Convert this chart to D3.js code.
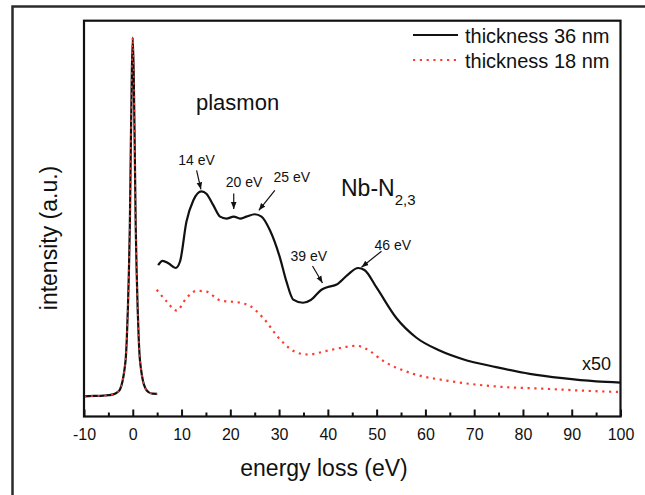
<!DOCTYPE html>
<html>
<head>
<meta charset="utf-8">
<script src="https://cdn.jsdelivr.net/npm/d3@7"></script>
<style>
  html, body { margin: 0; padding: 0; background: #fff; }
  svg text { font-family: "Liberation Sans", Arial, Helvetica, sans-serif; fill: #111; }
</style>
</head>
<body>
<div id="chart"></div>
<script>
// zero-loss peak (same for both thicknesses)
const zeroLossE = [-10, -8, -6, -5, -4, -3.2, -2.6, -2.1, -1.7, -1.4, -1.2, -1.0, -0.8, -0.6, -0.4, -0.2, 0,
  0.2, 0.4, 0.6, 0.8, 1.0, 1.2, 1.4, 1.7, 2.1, 2.6, 3.2, 4, 5]
const zeroLossI = [4.7, 4.8, 4.9, 5.0, 5.2, 5.7, 6.5, 8.5, 11.5, 15, 20, 27, 36, 48, 68, 86, 95.5,
  86, 68, 48, 36, 27, 20, 15, 11.5, 8.5, 6.7, 5.8, 5.4, 5.35]

// x50 loss region, thickness 36 nm
const energy36 = [5.2, 6.1, 7.3, 8.8, 9.7, 11, 12.4, 14.1, 15.1, 16.5, 17.9, 19.2, 20.7, 22, 23.3, 25, 26.4,
  28.1, 30.2, 31.5, 32.9, 34.9, 36.5, 38.7, 40, 41.8, 44, 46.2, 47.5, 50, 54, 58.1, 62.9, 67.7, 74.5,
  81.4, 88.1, 95, 100]
const loss36 = [37.9, 39.0, 38.4, 37.2, 38.9, 48.9, 54.3, 56.6, 56.0, 53.1, 50.2, 49.7, 50.2, 49.7, 50.2, 50.8, 50.2,
  46.8, 39.7, 33.8, 29.2, 28.4, 29.1, 31.7, 32.4, 33.0, 35.4, 37.2, 36.7, 32.2, 24.6, 19.6, 16.3, 14.1, 12.1,
  10.4, 9.3, 8.5, 8.2]

// x50 loss region, thickness 18 nm
const energy18 = [4.9, 6.9, 9, 11, 13.1, 15.1, 17.9, 22, 24, 26.7, 30.2, 33.6, 35.9, 40.4, 45.9, 47.9,
  51.3, 57.5, 64.3, 74.5, 84.8, 95, 99.8]
const loss18 = [31.7, 28.8, 26.4, 29.6, 31.4, 31.2, 29.0, 28.4, 27.6, 24.6, 19.1, 15.8, 15.3, 16.4, 17.5, 16.7,
  13.7, 10.4, 8.7, 7.2, 6.6, 6.0, 5.8]

const xTicks = [-10, 0, 10, 20, 30, 40, 50, 60, 70, 80, 90, 100]
const xMinorTicks = [-5, 5, 15, 25, 35, 45, 55, 65, 75, 85, 95]
const seriesNames = ['thickness 36 nm', 'thickness 18 nm']
const peakLabels = ['14 eV', '20 eV', '25 eV', '39 eV', '46 eV']

// arrow tips on the curve (energy, intensity) and pixel offsets of tail / label
const arrows = [
  { e: 13.97, i: 57.1, tail: [-4.3, -19], text: [-4.3, -24] },
  { e: 20.7, i: 52.1, tail: [0, -15.7], text: [10.3, -22.4] },
  { e: 25.85, i: 51.8, tail: [16, -20], text: [33, -28.7] },
  { e: 38.9, i: 33.4, tail: [-10, -17], text: [-13.7, -21.7] },
  { e: 46.9, i: 37.4, tail: [20, -16], text: [31.3, -17.6] }
]

const width = 645
const height = 495
const box = { left: 84, right: 620.5, top: 20.7, bottom: 416.5 }

const svg = d3.select('#chart')
  .append('svg')
  .attr('width', width)
  .attr('height', height)

// outer frame of the figure
svg.append('rect')
  .attr('x', 12.5).attr('y', 6.5)
  .attr('width', 700).attr('height', 600)
  .attr('fill', 'none')
  .attr('stroke', '#2b2b2b')
  .attr('stroke-width', 2.5)

const x = d3.scaleLinear().domain([-10, 100]).range([box.left, box.right])
const y = d3.scaleLinear().domain([-0.4, 99.8]).range([box.bottom, box.top])

const line = d3.line()
  .x(d => x(d[0]))
  .y(d => y(d[1]))
  .curve(d3.curveMonotoneX)

const zl = zeroLossE.map((e, k) => [e, zeroLossI[k]])
const s36 = energy36.map((e, k) => [e, loss36[k]])
const s18 = energy18.map((e, k) => [e, loss18[k]])

const blackStyle = g => g.attr('fill', 'none').attr('stroke', '#111').attr('stroke-width', 2.2)
  .attr('stroke-linejoin', 'round')
const redStyle = g => g.attr('fill', 'none').attr('stroke', '#ff3b2f').attr('stroke-width', 2.2)
  .attr('stroke-dasharray', '2.2,4.6')

svg.append('path').datum(zl).attr('d', line).call(blackStyle)
svg.append('path').datum(s36).attr('d', line).call(blackStyle)
svg.append('path').datum(s18).attr('d', line).call(redStyle)
svg.append('path').datum(zl).attr('d', line).call(redStyle).attr('stroke-width', 1.6)

// axes: bottom with inward ticks, box around plot
const axisY = box.bottom
const major = d3.axisBottom(x).tickValues(xTicks).tickSize(-7).tickPadding(12).tickFormat(d => String(d))
const minor = d3.axisBottom(x).tickValues(xMinorTicks).tickSize(-4).tickFormat('')

const gMaj = svg.append('g').attr('transform', `translate(0,${axisY})`).call(major)
const gMin = svg.append('g').attr('transform', `translate(0,${axisY})`).call(minor)
gMaj.select('.domain').remove()
gMin.select('.domain').remove()
svg.selectAll('.tick line').attr('stroke', '#111').attr('stroke-width', 2)
gMaj.selectAll('.tick text').attr('font-size', 16).attr('fill', '#111')
  .style('font-family', '"Liberation Sans", Arial, sans-serif')

svg.append('rect')
  .attr('x', box.left).attr('y', box.top)
  .attr('width', box.right - box.left).attr('height', box.bottom - box.top)
  .attr('fill', 'none')
  .attr('stroke', '#111')
  .attr('stroke-width', 2.2)

// axis titles
svg.append('text')
  .attr('x', 324).attr('y', 476)
  .attr('text-anchor', 'middle')
  .attr('font-size', 23)
  .attr('fill', '#222')
  .text('energy loss (eV)')

svg.append('text')
  .attr('transform', 'translate(57,238) rotate(-90)')
  .attr('text-anchor', 'middle')
  .attr('font-size', 23)
  .attr('fill', '#222')
  .text('intensity (a.u.)')

// legend
const legend = svg.append('g')
seriesNames.forEach((name, k) => {
  const ly = 35 + k * 25
  const ln = legend.append('line')
    .attr('x1', 413).attr('x2', 458)
    .attr('y1', ly).attr('y2', ly)
  if (k === 0) ln.call(blackStyle)
  else ln.call(redStyle)
  legend.append('text')
    .attr('x', 465).attr('y', ly + 7.5)
    .attr('font-size', 20)
    .text(name)
})

// annotations
svg.append('defs').append('marker')
  .attr('id', 'head')
  .attr('viewBox', '0 0 10 10')
  .attr('refX', 10).attr('refY', 5)
  .attr('markerWidth', 7).attr('markerHeight', 7)
  .attr('markerUnits', 'userSpaceOnUse')
  .attr('orient', 'auto')
  .append('path')
  .attr('d', 'M0,1 L10,5 L0,9 Z')
  .attr('fill', '#111')

arrows.forEach((a, k) => {
  const tx = x(a.e)
  const ty = y(a.i)
  svg.append('line')
    .attr('x1', tx + a.tail[0]).attr('y1', ty + a.tail[1])
    .attr('x2', tx).attr('y2', ty)
    .attr('stroke', '#111').attr('stroke-width', 1.2)
    .attr('marker-end', 'url(#head)')
  svg.append('text')
    .attr('x', tx + a.text[0]).attr('y', ty + a.text[1])
    .attr('text-anchor', 'middle')
    .attr('font-size', 14)
    .text(peakLabels[k])
})

svg.append('text')
  .attr('x', 196).attr('y', 110)
  .attr('font-size', 22)
  .attr('fill', '#222')
  .text('plasmon')

const nb = svg.append('text')
  .attr('x', 341).attr('y', 196)
  .attr('font-size', 23)
  .attr('fill', '#222')
nb.append('tspan').text('Nb-N')
nb.append('tspan').attr('dy', 9).attr('font-size', 15).text('2,3')

svg.append('text')
  .attr('x', 582).attr('y', 370)
  .attr('font-size', 18)
  .text('x50')
</script>
</body>
</html>
